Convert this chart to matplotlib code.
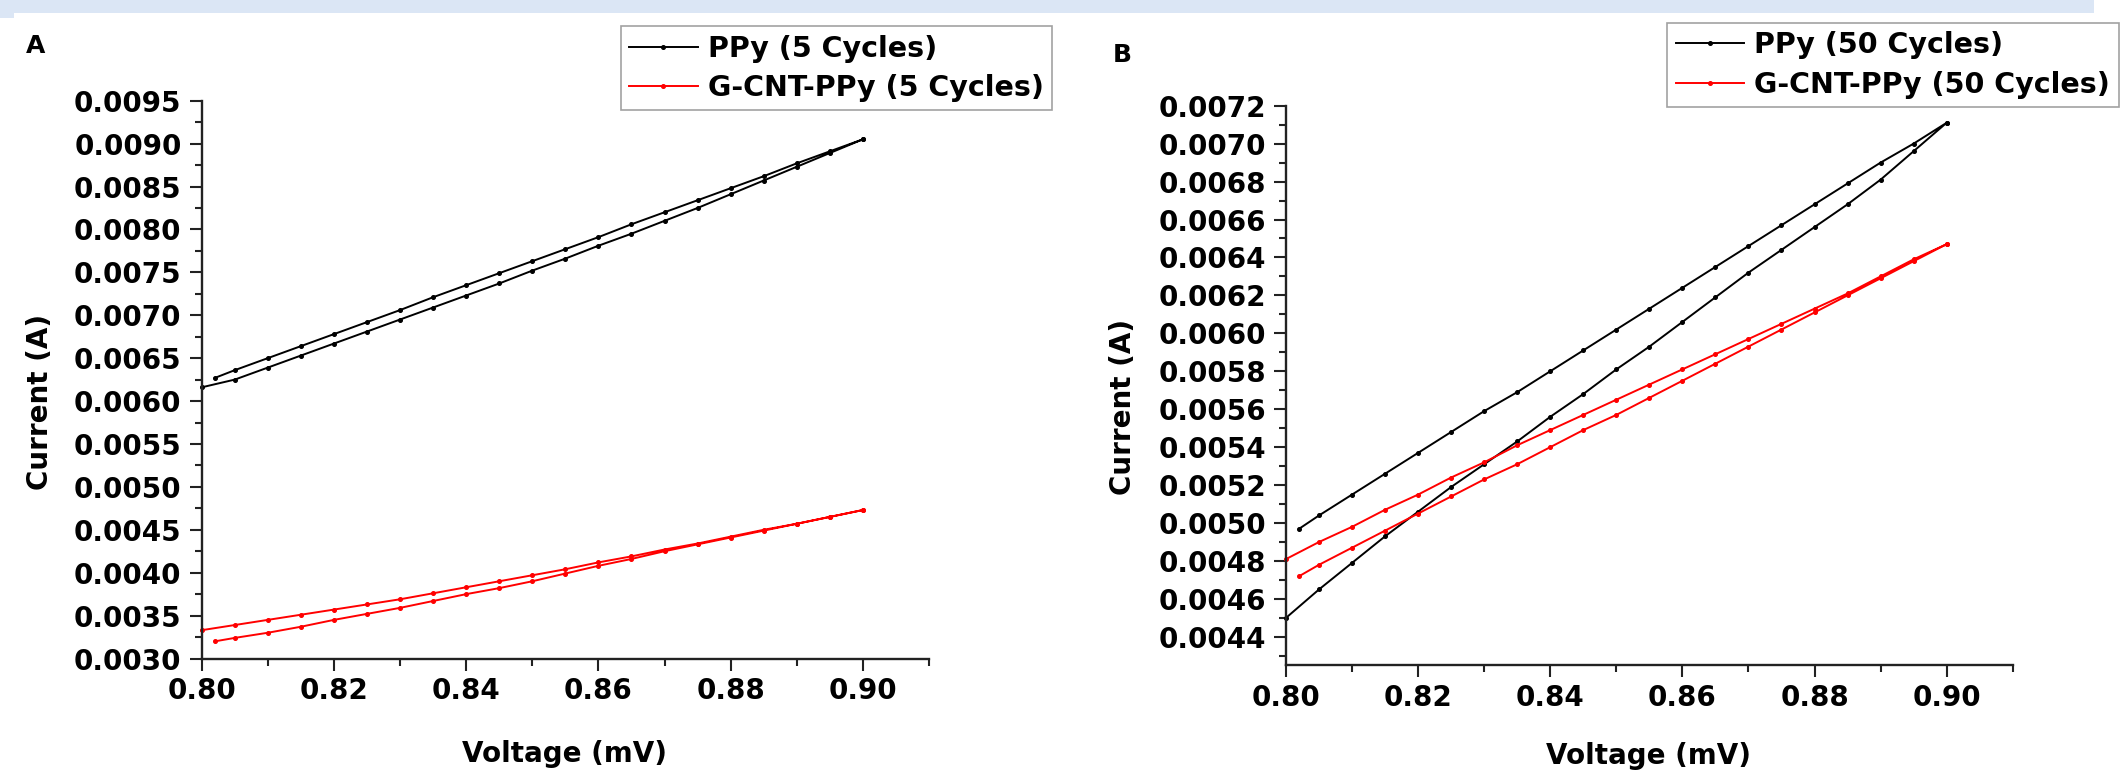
import matplotlib
matplotlib.use("Agg")
import matplotlib.pyplot as plt
from matplotlib.ticker import MultipleLocator, FormatStrFormatter
from matplotlib.patches import Rectangle

# voltage grid of the forward sweep (starts just after 0.80) and reverse sweep
v_fwd = [0.802, 0.805, 0.810, 0.815, 0.820, 0.825, 0.830, 0.835, 0.840, 0.845, 0.850,
         0.855, 0.860, 0.865, 0.870, 0.875, 0.880, 0.885, 0.890, 0.895, 0.900]
v_rev = [0.900, 0.895, 0.890, 0.885, 0.880, 0.875, 0.870, 0.865, 0.860, 0.855, 0.850,
         0.845, 0.840, 0.835, 0.830, 0.825, 0.820, 0.815, 0.810, 0.805, 0.800]

# panel A, 5 cycles
ppy5_fwd = [0.00627, 0.00636, 0.00650, 0.00664, 0.00678, 0.00692, 0.00706, 0.00721, 0.00735,
            0.00749, 0.00763, 0.00777, 0.00791, 0.00806, 0.00820, 0.00834, 0.00848, 0.00862,
            0.00877, 0.00891, 0.00905]
ppy5_rev = [0.00905, 0.00889, 0.00873, 0.00857, 0.00841, 0.00825, 0.00810, 0.00795, 0.00781,
            0.00766, 0.00752, 0.00737, 0.00723, 0.00709, 0.00695, 0.00681, 0.00667, 0.00653,
            0.00639, 0.00625, 0.00616]
cnt5_fwd = [0.00320, 0.00324, 0.00330, 0.00337, 0.00345, 0.00352, 0.00359, 0.00367, 0.00375,
            0.00382, 0.00390, 0.00399, 0.00408, 0.00416, 0.00425, 0.00433, 0.00441, 0.00449,
            0.00457, 0.00465, 0.00473]
cnt5_rev = [0.00473, 0.00465, 0.00457, 0.00450, 0.00442, 0.00434, 0.00427, 0.00419, 0.00412,
            0.00404, 0.00397, 0.00390, 0.00383, 0.00376, 0.00369, 0.00363, 0.00357, 0.00351,
            0.00345, 0.00339, 0.00333]

# panel B, 50 cycles
ppy50_fwd = [0.00497, 0.00504, 0.00515, 0.00526, 0.00537, 0.00548, 0.00559, 0.00569, 0.00580,
             0.00591, 0.00602, 0.00613, 0.00624, 0.00635, 0.00646, 0.00657, 0.00668, 0.00679,
             0.00690, 0.00700, 0.00711]
ppy50_rev = [0.00711, 0.00696, 0.00681, 0.00668, 0.00656, 0.00644, 0.00632, 0.00619, 0.00606,
             0.00593, 0.00581, 0.00568, 0.00556, 0.00543, 0.00531, 0.00519, 0.00506, 0.00493,
             0.00479, 0.00465, 0.00450]
cnt50_fwd = [0.00472, 0.00478, 0.00487, 0.00496, 0.00505, 0.00514, 0.00523, 0.00531, 0.00540,
             0.00549, 0.00557, 0.00566, 0.00575, 0.00584, 0.00593, 0.00602, 0.00611, 0.00620,
             0.00629, 0.00638, 0.00647]
cnt50_rev = [0.00647, 0.00639, 0.00630, 0.00621, 0.00613, 0.00605, 0.00597, 0.00589, 0.00581,
             0.00573, 0.00565, 0.00557, 0.00549, 0.00541, 0.00532, 0.00524, 0.00515, 0.00507,
             0.00498, 0.00490, 0.00481]

labels_a = ["PPy (5 Cycles)", "G-CNT-PPy (5 Cycles)"]
labels_b = ["PPy (50 Cycles)", "G-CNT-PPy (50 Cycles)"]

W, H = 2125, 773
plt.rcParams["font.family"] = "DejaVu Sans"
plt.rcParams["font.weight"] = "bold"
FS = 20

fig = plt.figure(figsize=(W / 100, H / 100), dpi=100)

# light blue strip at the top of the page
fig.patches.append(Rectangle((0, 1 - 13 / H), 2094 / W, 13 / H, transform=fig.transFigure,
                             facecolor="#dbe6f5", edgecolor="none"))
fig.patches.append(Rectangle((0, 1 - 18 / H), 14 / W, 5 / H, transform=fig.transFigure,
                             facecolor="#dbe6f5", edgecolor="none"))


def px(x0, y0, x1, y1):
    return [x0 / W, 1 - y1 / H, (x1 - x0) / W, (y1 - y0) / H]


def style_axes(ax, ylo, yhi, ymaj, ymin):
    ax.set_xlim(0.80, 0.91)
    ax.set_ylim(ylo, yhi)
    ax.xaxis.set_major_locator(MultipleLocator(0.02))
    ax.xaxis.set_minor_locator(MultipleLocator(0.01))
    ax.yaxis.set_major_locator(MultipleLocator(ymaj))
    ax.yaxis.set_minor_locator(MultipleLocator(ymin))
    ax.xaxis.set_major_formatter(FormatStrFormatter("%.2f"))
    ax.yaxis.set_major_formatter(FormatStrFormatter("%.4f"))
    for s in ["top", "right"]:
        ax.spines[s].set_visible(False)
    for s in ["left", "bottom"]:
        ax.spines[s].set_linewidth(1.7)
        ax.spines[s].set_color("#222222")
    ax.tick_params(which="major", length=8.5, width=1.5, labelsize=FS, color="#222222")
    ax.tick_params(which="minor", length=5, width=1.5, color="#222222")
    ax.tick_params(axis="y", which="major", pad=6)
    ax.tick_params(axis="x", which="major", pad=5)
    for t in ax.get_xticklabels() + ax.get_yticklabels():
        t.set_fontweight("bold")


def loop(ax, fwd, rev, color, label):
    line, = ax.plot(v_fwd + v_rev, fwd + rev, color=color, lw=1.4, marker="o",
                    markersize=2.6, label=label, clip_on=False)
    return line


ax1 = fig.add_axes(px(201.7, 100.7, 929, 658.5))
l1 = loop(ax1, ppy5_fwd, ppy5_rev, "black", labels_a[0])
l2 = loop(ax1, cnt5_fwd, cnt5_rev, "red", labels_a[1])
style_axes(ax1, 0.0030, 0.0095, 0.0005, 0.00025)

ax2 = fig.add_axes(px(1286, 105.7, 2012.7, 665.3))
l3 = loop(ax2, ppy50_fwd, ppy50_rev, "black", labels_b[0])
l4 = loop(ax2, cnt50_fwd, cnt50_rev, "red", labels_b[1])
style_axes(ax2, 0.00425, 0.0072, 0.0002, 0.0001)

legkw = dict(loc="upper left", bbox_transform=fig.transFigure, frameon=True,
             fancybox=False, borderaxespad=0, borderpad=0.3, handlelength=2.4,
             handletextpad=0.35, labelspacing=0.4, prop={"weight": "bold", "size": 20.5})
leg1 = ax1.legend([l1, l2], labels_a, bbox_to_anchor=(620.7 / W, 1 - 26 / H), **legkw)
leg2 = ax2.legend([l3, l4], labels_b, bbox_to_anchor=(1667.3 / W, 1 - 22.7 / H), **legkw)
for leg in (leg1, leg2):
    leg.get_frame().set_edgecolor("#8a8a8a")
    leg.get_frame().set_linewidth(1.2)

fig.text(36 / W, 1 - 46 / H, "A", fontsize=18, fontweight="bold", ha="center", va="center")
fig.text(1122 / W, 1 - 55 / H, "B", fontsize=18, fontweight="bold", ha="center", va="center")

fig.text(40 / W, 1 - 402 / H, "Current (A)", rotation=90, fontsize=FS, fontweight="bold",
         ha="center", va="center")
fig.text(1123 / W, 1 - 407 / H, "Current (A)", rotation=90, fontsize=FS, fontweight="bold",
         ha="center", va="center")
fig.text(565 / W, 1 - 754 / H, "Voltage (mV)", fontsize=FS, fontweight="bold",
         ha="center", va="center")
fig.text(1648 / W, 1 - 756 / H, "Voltage (mV)", fontsize=FS, fontweight="bold",
         ha="center", va="center")

fig.savefig("out.png", dpi=100)
